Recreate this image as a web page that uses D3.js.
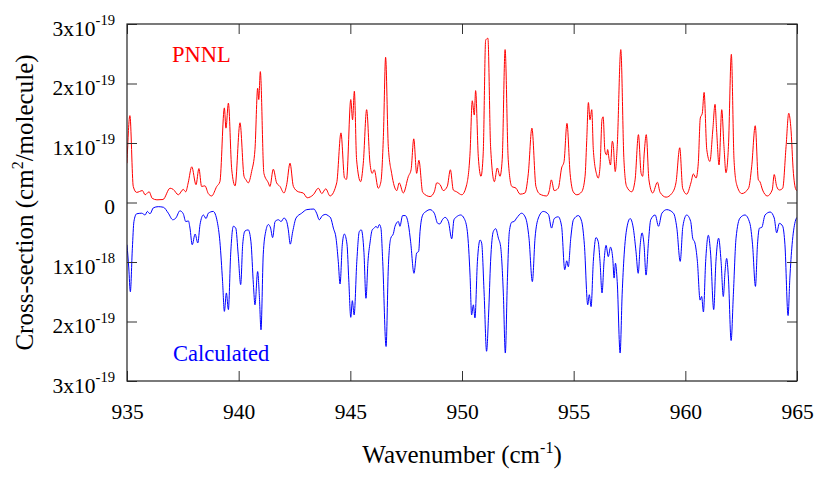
<!DOCTYPE html>
<html><head><meta charset="utf-8">
<script src="https://cdn.jsdelivr.net/npm/d3@7"></script>
<style>
body{margin:0;background:#fff}
svg{display:block}
svg text{font-family:"Liberation Serif", serif;}
</style>
</head><body>
<svg id="chart" width="830" height="498"></svg>
<script>
// Cross-section values in units of 1e-19 cm^2/molecule
const pnnlWavenumber = [935.00,935.13,935.28,935.43,935.69,935.81,935.99,936.13,936.34,936.61,936.93,937.07,937.30,937.52,937.63,937.74,937.90,938.09,938.22,938.34,938.49,938.64,938.79,939.02,939.16,939.36,939.43,939.54,939.69,939.84,940.06,940.24,940.33,940.43,940.58,940.73,940.85,940.90,940.97,941.13,941.33,941.40,941.55,941.70,941.85,942.03,942.15,942.30,942.45,942.67,942.89,943.07,943.34,943.57,943.72,943.90,944.09,944.39,944.58,944.74,944.83,945.02,945.10,945.18,945.28,945.46,945.58,945.73,945.88,945.98,946.07,946.25,946.37,946.48,946.58,946.70,946.85,947.08,947.19,947.37,947.60,947.72,947.84,947.97,948.07,948.24,948.57,948.76,948.87,949.02,949.16,949.34,949.48,949.61,949.76,949.99,950.21,950.36,950.46,950.55,950.61,950.73,950.85,950.95,951.06,951.16,951.28,951.45,951.58,951.70,951.80,951.93,952.07,952.23,952.42,952.60,952.82,952.97,953.13,953.31,953.49,953.79,953.91,954.00,954.13,954.31,954.46,954.57,954.70,954.84,954.98,955.14,955.36,955.51,955.58,955.66,955.73,955.81,955.88,956.03,956.10,956.18,956.27,956.32,956.40,956.48,956.52,956.59,956.65,956.73,956.77,956.86,956.95,957.11,957.25,957.37,957.60,957.75,957.90,958.02,958.09,958.16,958.25,958.37,958.54,958.75,958.87,959.14,959.39,959.58,959.75,959.88,960.06,960.25,960.36,960.48,960.58,960.67,960.76,960.84,960.96,961.10,961.23,961.33,961.40,961.51,961.63,961.73,961.82,961.93,962.06,962.18,962.30,962.53,962.83,962.97,963.13,963.27,963.34,963.46,963.67,963.89,963.98,964.09,964.21,964.36,964.51,964.63,964.72,964.84,964.96,965.00];
const pnnlCrossSection = [0.66,1.46,0.27,0.17,0.20,0.13,0.18,0.07,0.045,0.05,0.24,0.22,0.13,0.22,0.18,0.33,0.60,0.30,0.57,0.27,0.28,0.15,0.11,0.27,0.35,1.59,1.25,1.67,0.55,0.28,1.34,0.44,0.38,0.33,0.52,0.89,1.92,1.73,2.20,0.49,0.33,0.27,0.56,0.33,0.27,0.16,0.30,0.66,0.27,0.18,0.16,0.08,0.13,0.24,0.15,0.23,0.11,0.33,1.17,0.41,0.39,1.73,1.39,1.87,0.72,0.35,0.66,1.56,0.66,0.49,0.55,0.24,0.35,1.11,2.44,0.94,0.49,0.20,0.33,0.16,0.44,0.55,1.07,0.49,0.71,0.17,0.10,0.18,0.33,0.30,0.20,0.27,0.55,0.21,0.18,0.13,0.30,0.83,1.71,1.47,1.88,0.77,0.44,0.83,2.73,2.76,0.94,0.35,0.58,0.44,0.72,2.57,0.72,0.27,0.24,0.14,0.16,0.49,1.25,0.27,0.14,0.11,0.20,0.38,0.20,0.24,0.58,0.69,1.33,0.49,0.18,0.13,0.18,0.44,1.00,1.68,1.39,1.56,0.89,0.47,0.41,0.60,1.40,1.44,0.86,0.80,0.89,0.72,0.63,1.03,0.98,0.52,0.94,2.57,0.72,0.27,0.18,0.38,1.14,0.49,0.44,0.83,1.14,0.38,0.16,0.34,0.17,0.09,0.15,0.33,0.92,0.24,0.14,0.33,0.48,0.41,0.66,1.42,1.50,1.85,0.89,0.69,1.22,1.65,1.22,0.63,1.56,0.94,0.50,0.94,2.49,0.72,0.30,0.15,0.24,0.60,1.29,0.38,0.35,0.21,0.11,0.21,0.47,0.27,0.21,0.24,0.94,1.50,1.28,0.49,0.21,0.20];

const calcWavenumber = [935.00,935.08,935.15,935.24,935.31,935.43,935.66,935.81,935.91,936.03,936.18,936.40,936.63,936.85,937.05,937.19,937.37,937.52,937.63,937.75,937.82,937.92,938.05,938.17,938.27,938.42,938.54,938.64,938.86,939.04,939.16,939.28,939.36,939.45,939.54,939.64,939.76,939.87,939.98,940.09,940.18,940.28,940.43,940.55,940.66,940.73,940.85,940.93,941.00,941.10,941.21,941.33,941.43,941.52,941.63,941.78,941.90,942.03,942.15,942.22,942.31,942.42,942.57,942.82,943.05,943.37,943.49,943.61,943.75,943.90,944.00,944.12,944.24,944.36,944.46,944.54,944.64,944.73,944.85,944.93,945.02,945.09,945.17,945.29,945.40,945.49,945.61,945.70,945.79,945.88,945.98,946.07,946.15,946.22,946.30,946.37,946.45,946.60,946.70,946.81,946.93,947.00,947.15,947.22,947.34,947.46,947.60,947.70,947.85,947.97,948.06,948.12,948.24,948.39,948.57,948.76,948.91,949.01,949.12,949.24,949.39,949.54,949.64,949.76,949.94,950.10,950.24,950.36,950.43,950.51,950.58,950.69,950.81,950.88,950.99,951.10,951.19,951.28,951.40,951.51,951.63,951.73,951.85,951.94,952.03,952.12,952.23,952.33,952.45,952.67,952.85,953.00,953.15,953.27,953.42,953.64,953.87,954.01,954.13,954.31,954.46,954.60,954.69,954.76,954.87,954.99,955.21,955.36,955.48,955.63,955.70,955.78,955.88,956.00,956.10,956.18,956.27,956.36,956.45,956.55,956.65,956.75,956.81,956.87,956.95,957.08,957.17,957.26,957.38,957.53,957.67,957.79,957.89,957.98,958.06,958.15,958.24,958.35,958.45,958.65,958.80,958.95,959.17,959.47,959.62,959.77,959.89,960.06,960.24,960.33,960.43,960.54,960.66,960.73,960.81,960.91,961.03,961.13,961.27,961.37,961.49,961.60,961.70,961.78,961.85,961.93,962.05,962.15,962.27,962.45,962.67,962.89,963.01,963.14,963.23,963.32,963.42,963.57,963.80,963.98,964.09,964.21,964.36,964.46,964.60,964.68,964.78,964.92,965.00];
const calcCrossSection = [0.71,1.10,1.50,0.77,0.32,0.19,0.18,0.21,0.15,0.19,0.09,0.07,0.08,0.18,0.29,0.26,0.14,0.19,0.32,0.31,0.43,0.71,0.53,0.68,0.37,0.21,0.27,0.18,0.15,0.32,0.66,1.33,1.83,1.52,1.80,0.88,0.40,0.43,0.88,1.38,0.71,0.48,0.46,0.66,1.38,1.72,1.16,1.60,2.14,0.88,0.49,0.37,0.43,0.59,0.32,0.29,0.32,0.26,0.32,0.45,0.70,0.49,0.26,0.18,0.12,0.11,0.18,0.29,0.22,0.20,0.22,0.26,0.43,0.60,0.99,1.37,0.71,0.53,0.70,1.30,1.93,1.65,1.89,0.99,0.49,0.46,0.84,1.61,0.99,0.68,0.46,0.43,0.40,0.43,0.37,0.43,0.99,2.42,1.10,0.60,0.52,0.40,0.32,0.40,0.22,0.22,0.37,0.66,1.19,0.85,0.82,0.49,0.21,0.15,0.12,0.18,0.35,0.36,0.29,0.25,0.32,0.61,0.29,0.24,0.21,0.27,0.49,1.22,1.89,1.72,1.94,0.99,0.63,0.68,1.52,2.50,1.89,0.99,0.49,0.44,0.60,0.74,1.52,2.53,1.33,0.49,0.33,0.32,0.26,0.18,0.26,0.60,1.33,0.60,0.26,0.15,0.20,0.43,0.27,0.24,0.40,1.13,0.98,1.08,0.60,0.29,0.22,0.32,0.71,1.72,1.55,1.75,0.99,0.59,0.66,0.99,1.52,0.99,0.72,0.91,0.75,0.94,1.27,1.02,1.33,2.53,1.55,0.88,0.43,0.27,0.43,0.82,1.19,0.71,0.51,0.71,1.22,0.66,0.29,0.21,0.40,0.18,0.12,0.18,0.43,0.99,0.40,0.21,0.32,0.60,0.68,0.99,1.64,1.58,1.84,0.99,0.55,0.85,1.80,0.99,0.60,0.99,1.58,1.15,0.94,1.27,2.32,1.55,0.60,0.26,0.21,0.35,0.71,1.41,0.71,0.43,0.42,0.21,0.16,0.26,0.51,0.35,0.40,0.71,1.90,1.27,0.71,0.32,0.25];

const xTicks = [935, 940, 945, 950, 955, 960, 965];
const yTicks = [3, 2, 1, 0, -1, -2, -3];
const yTickMantissa = ["3", "2", "1", "0", "1", "2", "3"];
const yTickExponent = ["-19", "-19", "-19", "", "-18", "-19", "-19"];
const seriesNames = ["PNNL", "Calculated"];
const seriesColors = ["#ff0000", "#0000ff"];

const W = 830, H = 498;
const m = {left: 127, right: 33, top: 24, bottom: 117};
const svg = d3.select("#chart");

const x = d3.scaleLinear().domain([935, 965]).range([m.left, W - m.right]);
const y = d3.scaleLinear().domain([-3, 3]).range([H - m.bottom, m.top]);

svg.append("clipPath").attr("id", "plotclip").append("rect")
  .attr("x", m.left).attr("y", m.top)
  .attr("width", W - m.left - m.right).attr("height", H - m.top - m.bottom);

const line = d3.line().curve(d3.curveMonotoneX);
const pnnlPts = pnnlWavenumber.map((w, i) => [x(w), y(pnnlCrossSection[i])]);
const calcPts = calcWavenumber.map((w, i) => [x(w), y(-calcCrossSection[i])]);

const g = svg.append("g").attr("clip-path", "url(#plotclip)");
g.append("path").attr("d", line(pnnlPts)).attr("fill", "none")
  .attr("stroke", seriesColors[0]).attr("stroke-width", 1);
g.append("path").attr("d", line(calcPts)).attr("fill", "none")
  .attr("stroke", seriesColors[1]).attr("stroke-width", 1);

// Axes with inward ticks on all sides
const tickLen = 10;
const BASE = 25; // text is laid out at 25px and scaled down
const axB = svg.append("g").attr("transform", `translate(0,${H - m.bottom})`)
  .call(d3.axisBottom(x).tickValues(xTicks).tickSize(-tickLen).tickFormat(d3.format("d")));
const axT = svg.append("g").attr("transform", `translate(0,${m.top})`)
  .call(d3.axisTop(x).tickValues(xTicks).tickSize(-tickLen).tickFormat(""));
const axL = svg.append("g").attr("transform", `translate(${m.left},0)`)
  .call(d3.axisLeft(y).tickValues(yTicks).tickSize(-tickLen).tickFormat(""));
const axR = svg.append("g").attr("transform", `translate(${W - m.right},0)`)
  .call(d3.axisRight(y).tickValues(yTicks).tickSize(-tickLen).tickFormat(""));

[axB, axT, axL, axR].forEach(a => {
  a.attr("font-family", null).attr("font-size", null);
  a.select(".domain").remove();
  a.selectAll(".tick line").attr("stroke", "#333").attr("stroke-width", 1);
});
axB.selectAll(".tick text").attr("font-size", BASE).attr("fill", "#000")
  .attr("y", 0).attr("dy", 0).attr("transform", "translate(0,38) scale(0.86)");

// y tick labels with superscript exponents
axL.selectAll(".tick").each(function(d) {
  const i = yTicks.indexOf(d);
  const t = d3.select(this).select("text")
    .attr("font-size", BASE).attr("fill", "#000")
    .attr("x", 0).attr("y", 0).attr("dy", 0).attr("text-anchor", "end")
    .attr("transform", "translate(-12,11) scale(0.86)");
  t.text(null);
  if (yTickExponent[i] === "") {
    t.append("tspan").text(yTickMantissa[i]);
  } else {
    t.append("tspan").text(yTickMantissa[i] + "x10");
    t.append("tspan").attr("font-size", 17).attr("dy", -12).text(yTickExponent[i]);
  }
});

// frame
svg.append("rect").attr("x", m.left).attr("y", m.top)
  .attr("width", W - m.left - m.right).attr("height", H - m.top - m.bottom)
  .attr("fill", "none").attr("stroke", "#222").attr("stroke-width", 1.2);

// series labels
svg.append("text").attr("transform", "translate(172,62) scale(0.9)").attr("font-size", BASE)
  .attr("fill", seriesColors[0]).text(seriesNames[0]);
svg.append("text").attr("transform", "translate(173,361) scale(0.9)").attr("font-size", BASE)
  .attr("fill", seriesColors[1]).text(seriesNames[1]);

// axis titles
const xt = svg.append("text").attr("x", 462).attr("y", 463)
  .attr("text-anchor", "middle").attr("font-size", BASE).attr("fill", "#000");
xt.append("tspan").text("Wavenumber (cm");
xt.append("tspan").attr("font-size", 16).attr("dy", -10).text("-1");
xt.append("tspan").attr("dy", 10).text(")");

const yt = svg.append("text").attr("transform", `translate(33,${(m.top + H - m.bottom) / 2}) rotate(-90)`)
  .attr("text-anchor", "middle").attr("font-size", BASE).attr("fill", "#000");
yt.append("tspan").text("Cross-section (cm");
yt.append("tspan").attr("font-size", 16).attr("dy", -10).text("2");
yt.append("tspan").attr("dy", 10).text("/molecule)");
</script>
</body></html>
